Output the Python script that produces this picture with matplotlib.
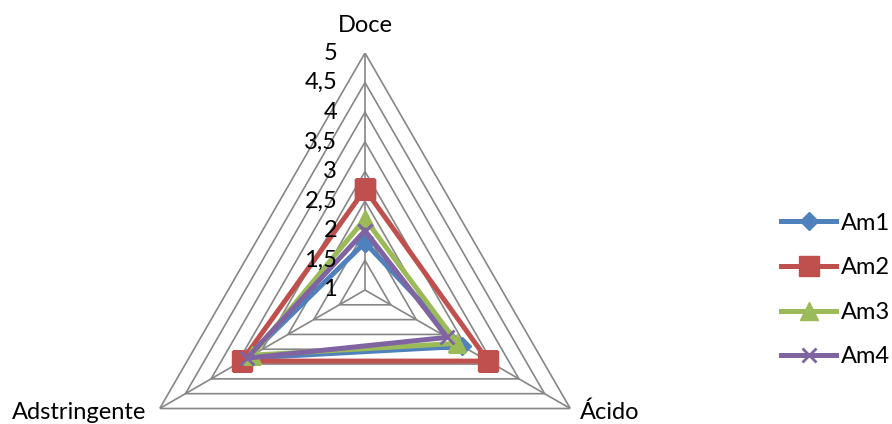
import numpy as np
import matplotlib
matplotlib.use("Agg")
import matplotlib.pyplot as plt

plt.rcParams['font.family'] = ['Lato', 'DejaVu Sans']

# sensory attributes and scores per sample
attributes = ["Doce", "Ácido", "Adstringente"]
am1 = [1.8, 2.9, 3.3]
am2 = [2.7, 3.4, 3.4]
am3 = [2.2, 2.8, 3.2]
am4 = [2.0, 2.6, 3.3]
series_names = ["Am1", "Am2", "Am3", "Am4"]
ring_values = [1.5, 2, 2.5, 3, 3.5, 4, 4.5, 5]
tick_values = [1, 1.5, 2, 2.5, 3, 3.5, 4, 4.5, 5]
tick_labels = ["1", "1,5", "2", "2,5", "3", "3,5", "4", "4,5", "5"]

colors = ["#4F81BD", "#C0504D", "#9BBB59", "#8064A2"]
markers = ["D", "s", "^", "x"]
msizes = [9, 14, 13, 10]

W, H = 892, 424
fig = plt.figure(figsize=(W / 100, H / 100), dpi=100)
cx, cy, R = 365, 290, 237
ax = fig.add_axes([(cx - R) / W, 1 - (cy + R) / H, 2 * R / W, 2 * R / H],
                  projection='polar')
ax.set_theta_zero_location('N')
ax.set_theta_direction(-1)
ax.set_ylim(1, 5)
ax.grid(False)
ax.set_xticks([])
ax.set_yticks([])
ax.spines['polar'].set_visible(False)
ax.patch.set_alpha(0)

theta = np.deg2rad([0, 120, 240])
theta_c = np.append(theta, theta[0])

# triangular grid rings and spokes
grid_col = "#868686"
for v in ring_values:
    ax.plot(theta_c, [v] * 4, color=grid_col, lw=1.2, zorder=1)
for t in theta:
    ax.plot([t, t], [1, 5], color=grid_col, lw=1.2, zorder=1)

# data series
for i, vals in enumerate([am1, am2, am3, am4]):
    v = np.append(vals, vals[0])
    ax.plot(theta_c, v, color=colors[i], lw=3.6, marker=markers[i],
            markersize=msizes[i], markeredgecolor=colors[i],
            markeredgewidth=2 if markers[i] == "x" else 1,
            label=series_names[i], zorder=3 + i)

fs = 17
# radial tick labels along the Doce axis, drawn above the series
for v, lab in zip(tick_values, tick_labels):
    ax.annotate(lab, xy=(0, v), xytext=(-20, 0), textcoords='offset points',
                ha='right', va='center', fontsize=fs, zorder=10)

# attribute labels
ax.annotate(attributes[0], xy=(theta[0], 5), xytext=(0, 20),
            textcoords='offset points', ha='center', va='center', fontsize=fs)
ax.annotate(attributes[1], xy=(theta[1], 5), xytext=(7, -3),
            textcoords='offset points', ha='left', va='center', fontsize=fs)
ax.annotate(attributes[2], xy=(theta[2], 5), xytext=(-10, -3),
            textcoords='offset points', ha='right', va='center', fontsize=fs)

ax.legend(loc='center left', bbox_to_anchor=(781 / W, 1 - 290 / H),
          bbox_transform=fig.transFigure, frameon=False, fontsize=fs,
          handlelength=2.35, handletextpad=0.2, labelspacing=1.0,
          borderpad=0, borderaxespad=0)

fig.savefig("out.png", dpi=100)
